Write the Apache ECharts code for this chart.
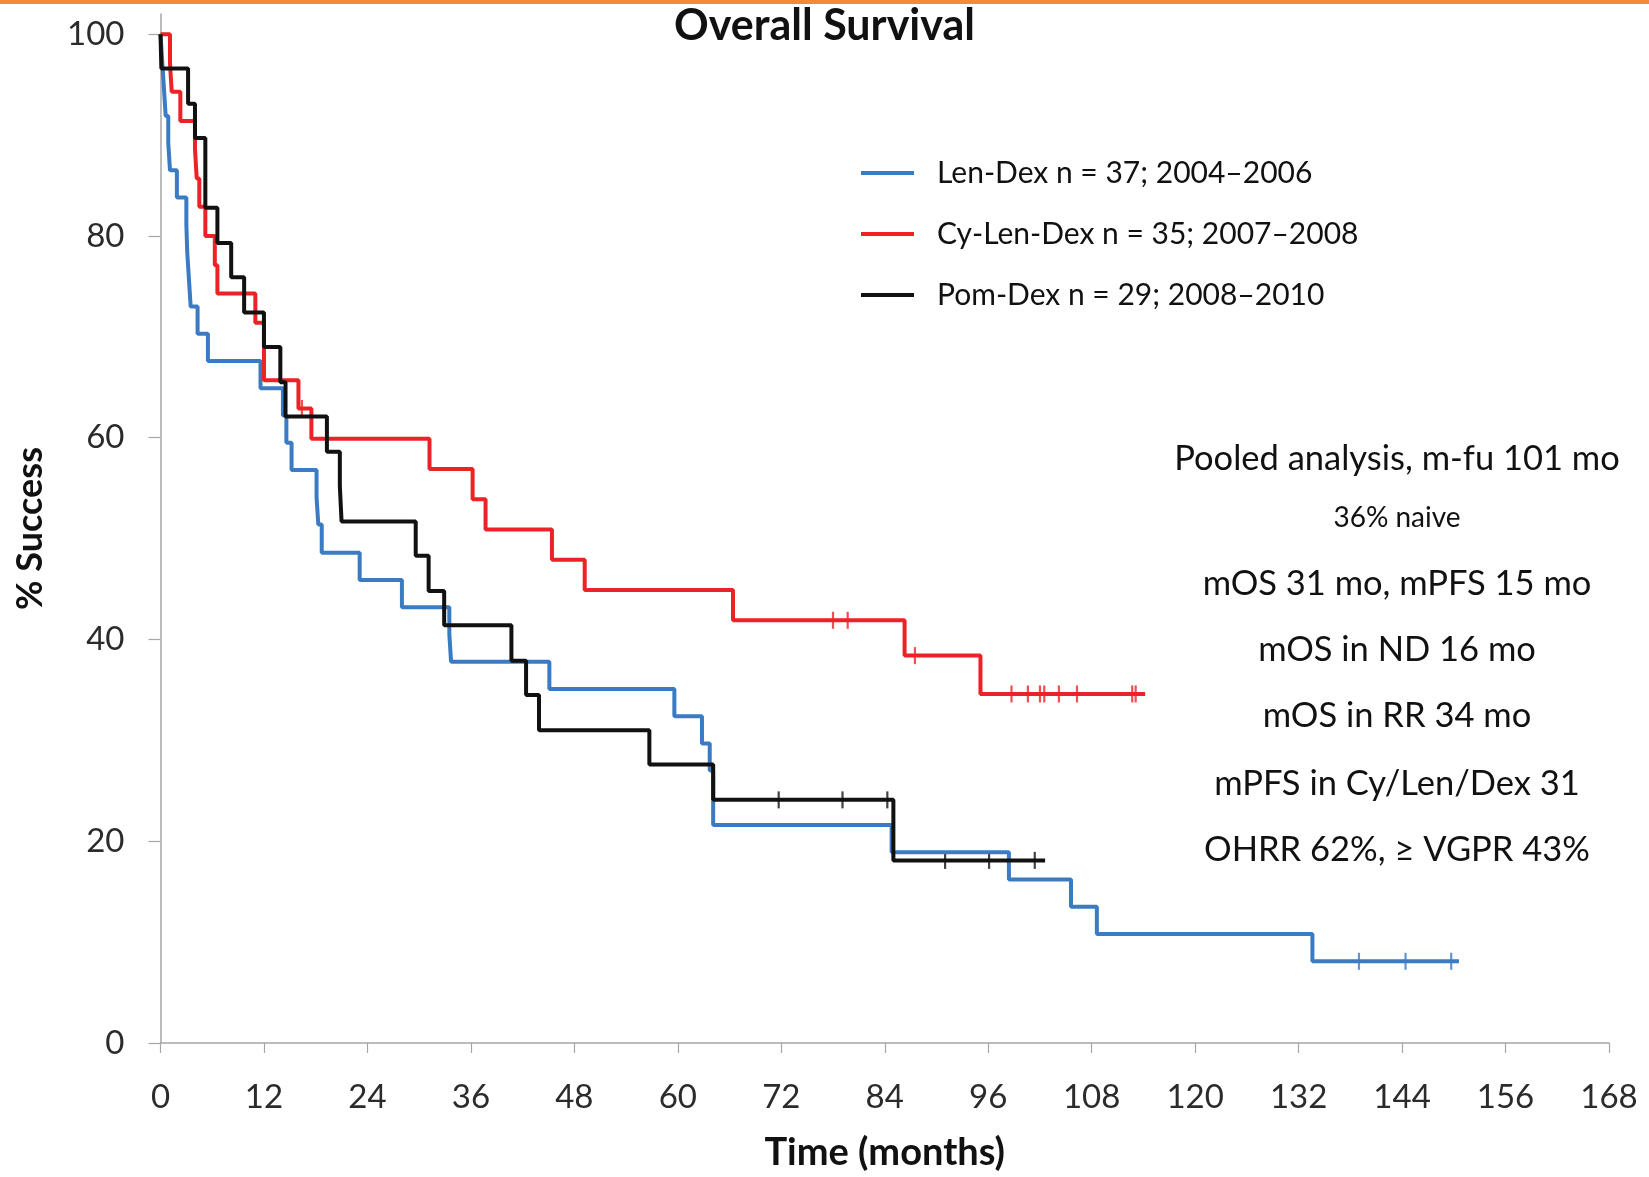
<!DOCTYPE html>
<html>
<head>
<meta charset="utf-8">
<title>Overall Survival</title>
<script src="https://cdn.jsdelivr.net/npm/echarts@6/dist/echarts.min.js"></script>
<style>
  html, body { margin: 0; padding: 0; background: #ffffff; }
  #chart { width: 1649px; height: 1177px; }
</style>
</head>
<body>
<div id="chart"></div>
<script>
// Kaplan–Meier overall survival, three treatment cohorts.
// Each *Time array holds the month at which the curve steps to the matching *Surv level (%).

const lenDexName = 'Len-Dex n = 37; 2004\u20132006';
const lenDexTime = [0, 0.2, 0.4, 0.6, 0.9, 1.1, 1.9, 3.0, 3.1, 3.3, 3.5, 4.3, 5.5, 11.6, 14.2, 14.6, 15.2, 18.1, 18.3, 18.7, 23.1, 28.0, 33.5, 33.7, 45.1, 59.6, 62.8, 63.7, 64.1, 84.8, 98.4, 105.6, 108.6, 133.6, 150.6];
const lenDexSurv = [100, 97.3, 94.6, 91.9, 89.2, 86.5, 83.8, 81.1, 78.4, 75.7, 73.0, 70.3, 67.6, 64.9, 62.2, 59.5, 56.8, 54.1, 51.4, 48.6, 45.9, 43.2, 40.5, 37.8, 35.1, 32.4, 29.7, 27.0, 21.6, 18.9, 16.2, 13.5, 10.8, 8.1, 8.1];
const lenDexCensorTime = [139.0, 144.4, 149.7];
const lenDexCensorSurv = [8.1, 8.1, 8.1];

const cyLenDexName = 'Cy-Len-Dex n = 35; 2007\u20132008';
const cyLenDexTime = [0, 1.1, 1.3, 2.3, 4.0, 4.2, 4.5, 5.2, 6.3, 6.6, 11.0, 12.0, 16.0, 17.5, 31.2, 36.2, 37.7, 45.4, 49.2, 66.4, 86.3, 95.1, 114.2];
const cyLenDexSurv = [100, 97.1, 94.3, 91.4, 88.6, 85.7, 82.9, 80.0, 77.1, 74.3, 71.4, 65.7, 62.9, 59.9, 56.9, 53.9, 50.9, 47.9, 44.9, 41.9, 38.4, 34.6, 34.6];
const cyLenDexCensorTime = [16.4, 78.0, 79.7, 87.5, 98.7, 100.6, 102.0, 102.5, 104.2, 106.3, 112.7, 113.1];
const cyLenDexCensorSurv = [62.9, 41.9, 41.9, 38.4, 34.6, 34.6, 34.6, 34.6, 34.6, 34.6, 34.6, 34.6];

const pomDexName = 'Pom-Dex n = 29; 2008\u20132010';
const pomDexTime = [0, 0.1, 3.2, 4.0, 5.2, 6.6, 8.2, 9.7, 12.0, 13.9, 14.5, 19.3, 20.8, 21.0, 29.6, 31.1, 32.9, 40.7, 42.4, 43.9, 56.7, 64.1, 85.0, 102.6];
const pomDexSurv = [100, 96.6, 93.1, 89.7, 82.8, 79.3, 75.9, 72.4, 69.0, 65.5, 62.1, 58.6, 55.2, 51.7, 48.3, 44.8, 41.4, 37.9, 34.5, 31.0, 27.6, 24.1, 18.1, 18.1];
const pomDexCensorTime = [71.7, 79.1, 84.3, 91.0, 96.1, 101.4];
const pomDexCensorSurv = [24.1, 24.1, 24.1, 18.1, 18.1, 18.1];

const xTicks = [0, 12, 24, 36, 48, 60, 72, 84, 96, 108, 120, 132, 144, 156, 168];
const yTicks = [0, 20, 40, 60, 80, 100];

const notes = [
  'Pooled analysis, m-fu 101 mo',
  '36% naive',
  'mOS 31 mo, mPFS 15 mo',
  'mOS in ND 16 mo',
  'mOS in RR 34 mo',
  'mPFS in Cy/Len/Dex 31',
  'OHRR 62%, \u2265 VGPR 43%'
];

const BLUE = '#3a7bc4';
const RED = '#ec2227';
const BLACK = '#111111';
const AXIS_GREY = '#a6a6a6';
const FONT = 'Lato, "Open Sans", "Liberation Sans", sans-serif';

function zip(xs, ys) {
  return xs.map((x, i) => [x, ys[i]]);
}

function kmLine(name, color, xs, ys) {
  return {
    name: name,
    type: 'line',
    step: 'end',
    data: zip(xs, ys),
    symbol: 'none',
    lineStyle: { color: color, width: 4 },
    itemStyle: { color: color },
    animation: false
  };
}

function censorMarks(name, color, xs, ys) {
  return {
    name: name,
    type: 'scatter',
    data: zip(xs, ys),
    symbol: 'rect',
    symbolSize: [2.2, 17],
    itemStyle: { color: color },
    animation: false
  };
}

const chart = echarts.init(document.getElementById('chart'), null, { renderer: 'canvas' });

// centre line of each note in the right-hand text block
const noteTops = [459, 518, 584, 650, 716, 784, 850];
const noteSizes = [34.5, 28, 34.5, 34.5, 34.5, 34.5, 34.5];

chart.setOption({
  backgroundColor: '#ffffff',
  animation: false,
  title: {
    text: 'Overall Survival',
    left: 'center',
    top: 0,
    textStyle: { fontFamily: FONT, fontWeight: 'bold', fontSize: 43, color: '#111111' }
  },
  legend: {
    orient: 'vertical',
    left: 856,
    top: 151,
    itemWidth: 53,
    itemHeight: 4,
    itemGap: 27,
    icon: 'rect',
    data: [lenDexName, cyLenDexName, pomDexName],
    textStyle: {
      fontFamily: FONT,
      fontSize: 30,
      lineHeight: 34,
      color: '#111111',
      padding: [0, 0, 0, 18]
    }
  },
  grid: { left: 160.5, right: 40, top: 14, bottom: 125, containLabel: false },
  xAxis: {
    type: 'value',
    min: 0,
    max: 168,
    interval: 12,
    name: 'Time (months)',
    nameLocation: 'middle',
    nameGap: 91,
    nameTextStyle: { fontFamily: FONT, fontWeight: 'bold', fontSize: 38, color: '#111111' },
    axisLine: { show: true, lineStyle: { color: AXIS_GREY, width: 1.5 } },
    axisTick: { show: true, length: 10, lineStyle: { color: AXIS_GREY, width: 1.2 } },
    axisLabel: {
      margin: 38,
      fontFamily: FONT,
      fontSize: 33,
      color: '#2b2b2b',
      customValues: xTicks
    },
    splitLine: { show: false }
  },
  yAxis: {
    type: 'value',
    min: 0,
    max: 102,
    name: '% Success',
    nameLocation: 'middle',
    nameRotate: 90,
    nameGap: 112,
    nameTextStyle: { fontFamily: FONT, fontWeight: 'bold', fontSize: 36, color: '#111111' },
    axisLine: { show: true, lineStyle: { color: AXIS_GREY, width: 1.5 } },
    axisTick: { show: true, length: 12, customValues: yTicks, lineStyle: { color: AXIS_GREY, width: 1.2 } },
    axisLabel: {
      margin: 36,
      fontFamily: FONT,
      fontSize: 33,
      color: '#2b2b2b',
      customValues: yTicks
    },
    splitLine: { show: false }
  },
  graphic: [
    {
      type: 'rect',
      left: 0,
      top: 0,
      shape: { width: 1649, height: 4 },
      style: { fill: '#f28a38' },
      silent: true
    }
  ].concat(notes.map((t, i) => ({
    type: 'text',
    x: 1397,
    y: noteTops[i],
    style: {
      text: t,
      fontFamily: FONT,
      fontSize: noteSizes[i],
      fill: '#111111',
      textAlign: 'center',
      textVerticalAlign: 'middle'
    },
    silent: true
  }))),
  series: [
    kmLine(lenDexName, BLUE, lenDexTime, lenDexSurv),
    kmLine(cyLenDexName, RED, cyLenDexTime, cyLenDexSurv),
    kmLine(pomDexName, BLACK, pomDexTime, pomDexSurv),
    censorMarks(lenDexName, BLUE, lenDexCensorTime, lenDexCensorSurv),
    censorMarks(cyLenDexName, RED, cyLenDexCensorTime, cyLenDexCensorSurv),
    censorMarks(pomDexName, BLACK, pomDexCensorTime, pomDexCensorSurv)
  ]
});
</script>
</body>
</html>
